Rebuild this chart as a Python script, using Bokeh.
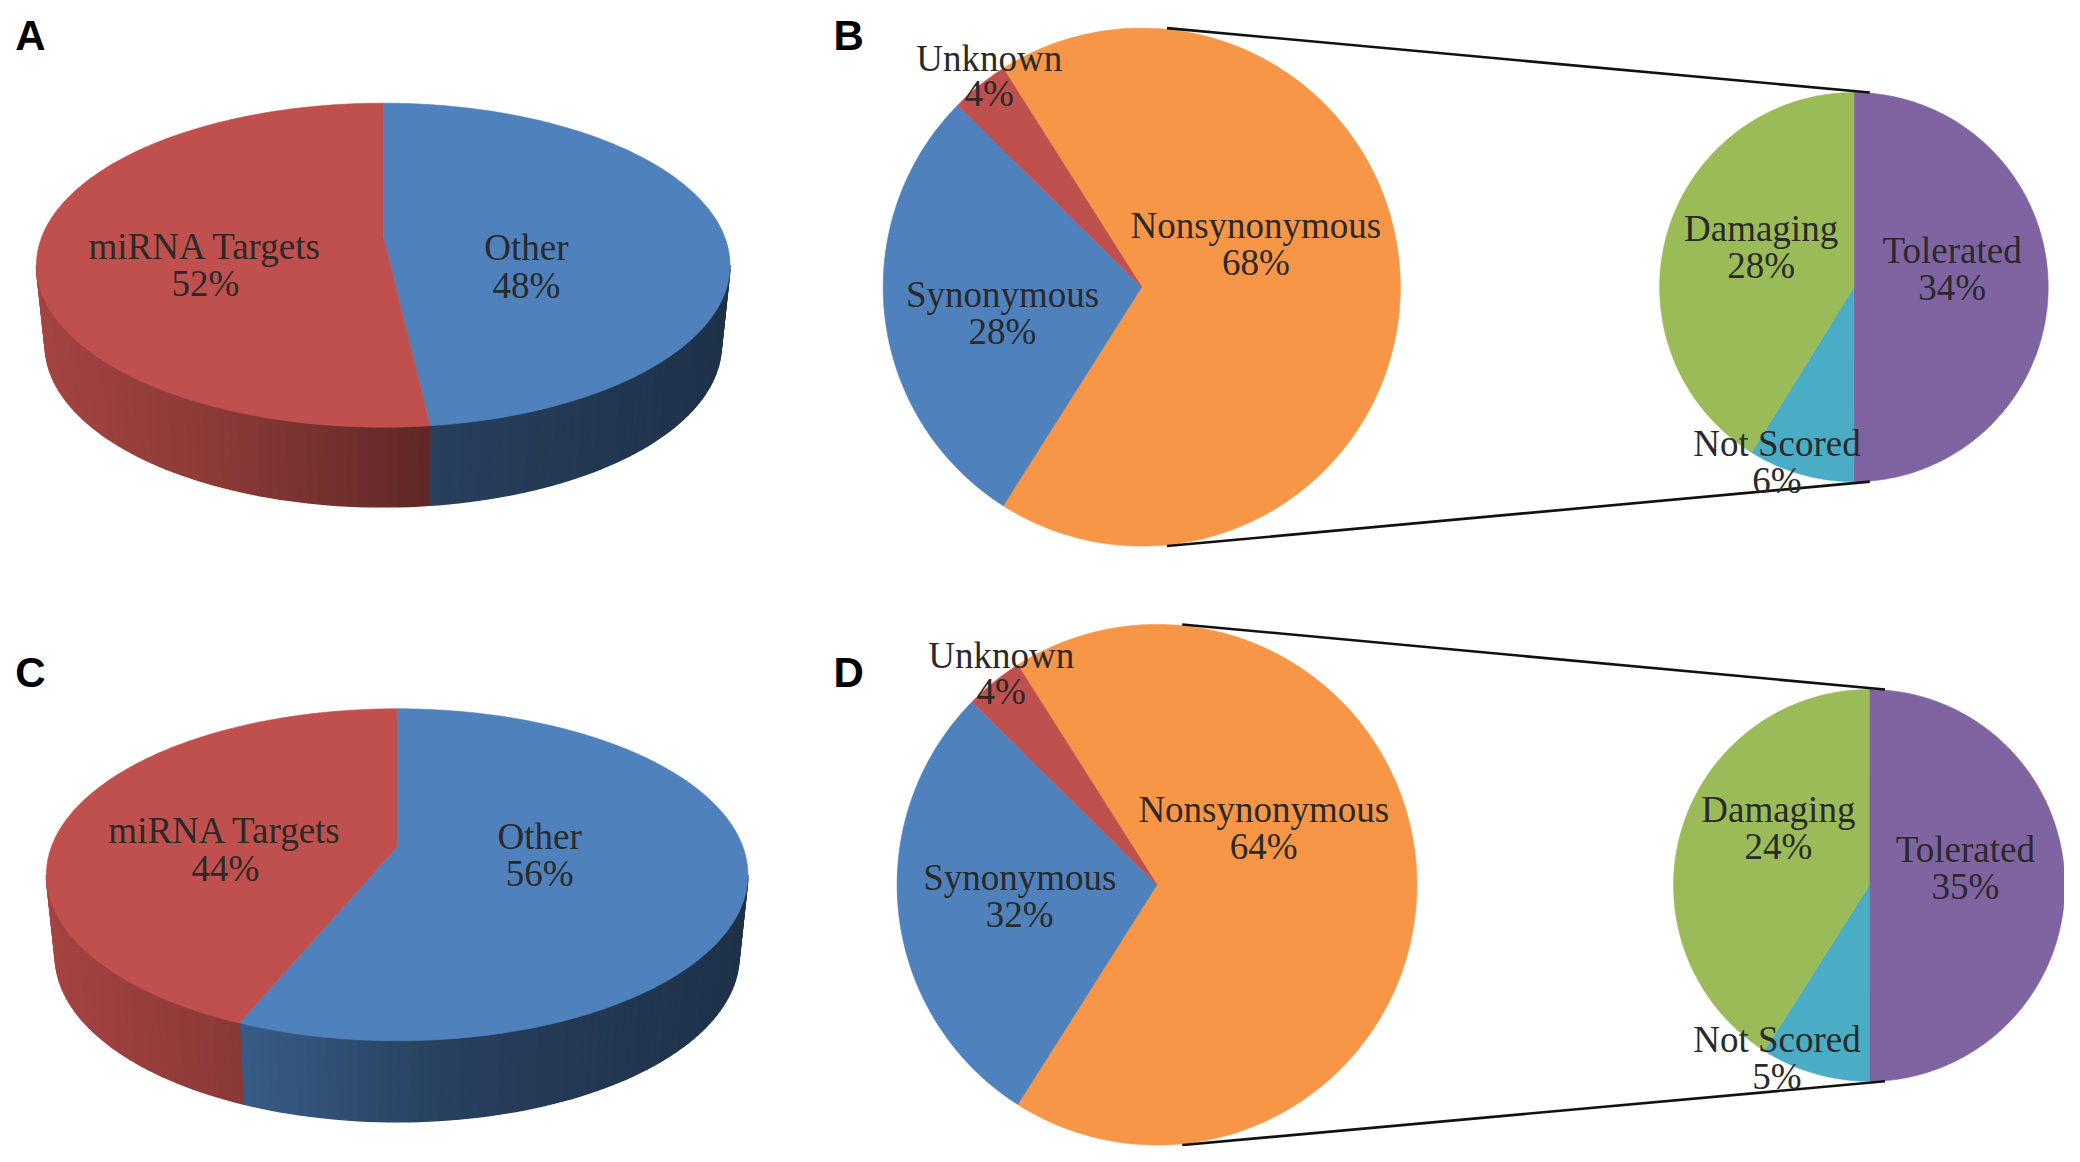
import math
from bokeh.plotting import figure
from bokeh.models import Range1d
from bokeh.core.properties import value
from bokeh.embed import file_html
from bokeh.resources import INLINE

# ---- data ----
a_names = ["Other", "miRNA Targets"]
a_values = [48, 52]               # printed labels
a_drawn = [48.2, 51.8]            # share of the pie the slices really take
c_names = ["Other", "miRNA Targets"]
c_values = [56, 44]               # printed labels
c_drawn = [56.3, 43.7]            # share of the pie the slices really take

b_names = ["Nonsynonymous", "Synonymous", "Unknown"]
b_values = [68, 28, 4]            # printed labels
b_drawn = [68, 28.4, 3.6]         # share of the circle the slices really take
b2_names = ["Tolerated", "Not Scored", "Damaging"]
b2_values = [34, 6, 28]

d_names = ["Nonsynonymous", "Synonymous", "Unknown"]
d_values = [64, 32, 4]            # printed labels
d_drawn = [68, 28.4, 3.6]         # share of the circle the slices really take
d2_names = ["Tolerated", "Not Scored", "Damaging"]
d2_values = [35, 5, 24]           # printed labels
d2_drawn = [50, 9, 41]            # share of the circle the slices really take

panel_letters = ["A", "B", "C", "D"]

# ---- styles ----
RED, BLUE, ORANGE = "#C0504D", "#4F81BD", "#F79646"
PURPLE, TEAL, GREEN = "#8064A2", "#4BACC6", "#9BBB59"
INK = "#2a2a2a"
# brightness of the 3-D wall across the pie width (fraction, factor)
WALL_SHADE = [(0.0, 0.86), (0.27, 0.72), (0.57, 0.50), (1.0, 0.39)]

# ---- layout, in units of 0.75 px (range below maps them onto the page) ----
P3D = {
    "A": dict(cx=289, cy=178, up=100, down=144, half=261.5, depth=60, shrink=0.975),
    "C": dict(cx=299.5, cy=638, up=104, down=146, half=264.5, depth=61, shrink=0.975),
}
PIE = {
    "B": dict(cx=861, cy=216.5, r=195, cx2=1398, cy2=216.5, r2=146.5),
    "D": dict(cx=872.5, cy=666.5, r=196, cx2=1409.5, cy2=667, r2=147.5),
}
LINK_DX_MAIN, LINK_DX_SMALL = 19, 12

p = figure(width=2064, height=1146, output_backend="svg", toolbar_location=None,
           x_range=Range1d(0.4, 1556.8), y_range=Range1d(863.6, 0.7), min_border=0)
p.axis.visible = False
p.grid.visible = False
p.outline_line_color = None
p.background_fill_color = "#ffffff"
p.border_fill_color = "#ffffff"


def hex_rgb(c):
    return tuple(int(c[i:i + 2], 16) for i in (1, 3, 5))


def shade_at(t):
    for (t0, s0), (t1, s1) in zip(WALL_SHADE, WALL_SHADE[1:]):
        if t <= t1:
            return s0 + (s1 - s0) * (t - t0) / (t1 - t0)
    return WALL_SHADE[-1][1]


def darken(c, s):
    r, g, b = hex_rgb(c)
    return "#%02x%02x%02x" % (int(r * s), int(g * s), int(b * s))


def flat_wedges(cx, cy, r, shares, colors, start_deg):
    """Slices clockwise from start_deg (0 = up)."""
    total = sum(shares)
    a = start_deg
    for share, col in zip(shares, colors):
        b = a + 360.0 * share / total
        n = max(3, int(b - a))
        xs, ys = [cx], [cy]
        for i in range(n + 1):
            t = math.radians(a + (b - a) * i / n)
            xs.append(cx + r * math.sin(t))
            ys.append(cy - r * math.cos(t))
        p.patch(xs, ys, fill_color=col, line_color=col, line_width=0.6)
        a = b


def pie3d(g, shares, colors):
    k = (g["down"] - g["up"]) / (g["down"] + g["up"])
    B = g["up"] * (1 + k)
    A = g["half"] * math.sqrt(1 - k * k)
    cx, cy = g["cx"], g["cy"]

    def pt(deg, sx=1.0, dy=0.0):
        t = math.radians(deg)
        u, v = math.sin(t), math.cos(t)
        w = 1 + k * v
        return cx + sx * A * u / w, cy - B * v / w + dy

    total = sum(shares)
    stops = [0.0]
    for s in shares:
        stops.append(stops[-1] + 360.0 * s / total)
    # walls: visible part of the rim, strips coloured along the width
    vis0 = 90 + math.degrees(math.asin(k))
    vis1 = 270 - math.degrees(math.asin(k))
    x_left = pt(vis1)[0]
    x_right = pt(vis0)[0]
    for i, col in enumerate(colors):
        a0 = max(stops[i], vis0)
        a1 = min(stops[i + 1], vis1)
        if a1 <= a0:
            continue
        n = max(2, int((a1 - a0) * 0.7))
        for j in range(n):
            d0 = a0 + (a1 - a0) * j / n
            d1 = a0 + (a1 - a0) * (j + 1) / n
            xa, ya = pt(d0)
            xb, yb = pt(d1)
            xc, yc = pt(d1, g["shrink"], g["depth"])
            xd, yd = pt(d0, g["shrink"], g["depth"])
            f = ((xa + xb) / 2 - x_left) / (x_right - x_left)
            c = darken(col, shade_at(f))
            p.patch([xa, xb, xc, xd], [ya, yb, yc, yd], fill_color=c, line_color=c, line_width=1.4)
    # lid
    for i, col in enumerate(colors):
        a0, a1 = stops[i], stops[i + 1]
        n = int(a1 - a0) + 2
        pts = [pt(a0 + (a1 - a0) * j / n) for j in range(n + 1)]
        xs = [cx] + [q[0] for q in pts]
        ys = [cy] + [q[1] for q in pts]
        p.patch(xs, ys, fill_color=col, line_color=col, line_width=0.6)


def label(x, y, lines, size="37px", gap=28):
    for i, s in enumerate(lines):
        p.text([x], [y + i * gap], text=[s], text_font=value("Liberation Serif"),
               text_font_size=size, text_color=INK, text_align="center", text_baseline="middle")


def pie_of_pie(g, shares, colors, shares2, colors2):
    half = 180.0 * shares[0] / sum(shares)
    flat_wedges(g["cx"], g["cy"], g["r"], shares, colors, 90 - half)
    flat_wedges(g["cx2"], g["cy2"], g["r2"], shares2, colors2, 0)
    for sign in (-1, 1):
        p.line([g["cx"] + LINK_DX_MAIN, g["cx2"] + LINK_DX_SMALL],
               [g["cy"] + sign * g["r"], g["cy2"] + sign * g["r2"]],
               line_color="#111111", line_width=2.6)


pie3d(P3D["A"], a_drawn, [BLUE, RED])
pie3d(P3D["C"], c_drawn, [BLUE, RED])
pie_of_pie(PIE["B"], b_drawn, [ORANGE, BLUE, RED], b2_values, [PURPLE, TEAL, GREEN])
pie_of_pie(PIE["D"], d_drawn, [ORANGE, BLUE, RED], d2_drawn, [PURPLE, TEAL, GREEN])


def pct(v):
    return f"{v}%"


label(155, 186, [a_names[1], pct(a_values[1])])
label(397, 187, [a_names[0], pct(a_values[0])])
label(170, 626, [c_names[1], pct(c_values[1])])
label(407, 630, [c_names[0], pct(c_values[0])])

label(947, 170, [b_names[0], pct(b_values[0])])
label(756, 222, [b_names[1], pct(b_values[1])])
label(746, 44, [b_names[2], pct(b_values[2])], gap=27)
label(1472, 189, [b2_names[0], pct(b2_values[0])])
label(1340, 334, [b2_names[1], pct(b2_values[1])])
label(1328, 172, [b2_names[2], pct(b2_values[2])])

label(953, 610, [d_names[0], pct(d_values[0])])
label(769, 661, [d_names[1], pct(d_values[1])])
label(755, 494, [d_names[2], pct(d_values[2])], gap=27)
label(1482, 640, [d2_names[0], pct(d2_values[0])])
label(1340, 783, [d2_names[1], pct(d2_values[1])])
label(1341, 610, [d2_names[2], pct(d2_values[2])])

for s, (x, y) in zip(panel_letters, [(23, 27), (640, 27), (23, 507), (640, 507)]):
    p.text([x], [y], text=[s], text_font=value("Liberation Sans"), text_font_size="42px",
           text_font_style="bold", text_color="#000000", text_align="center", text_baseline="middle")

open("out.html", "w").write(file_html(p, INLINE))
